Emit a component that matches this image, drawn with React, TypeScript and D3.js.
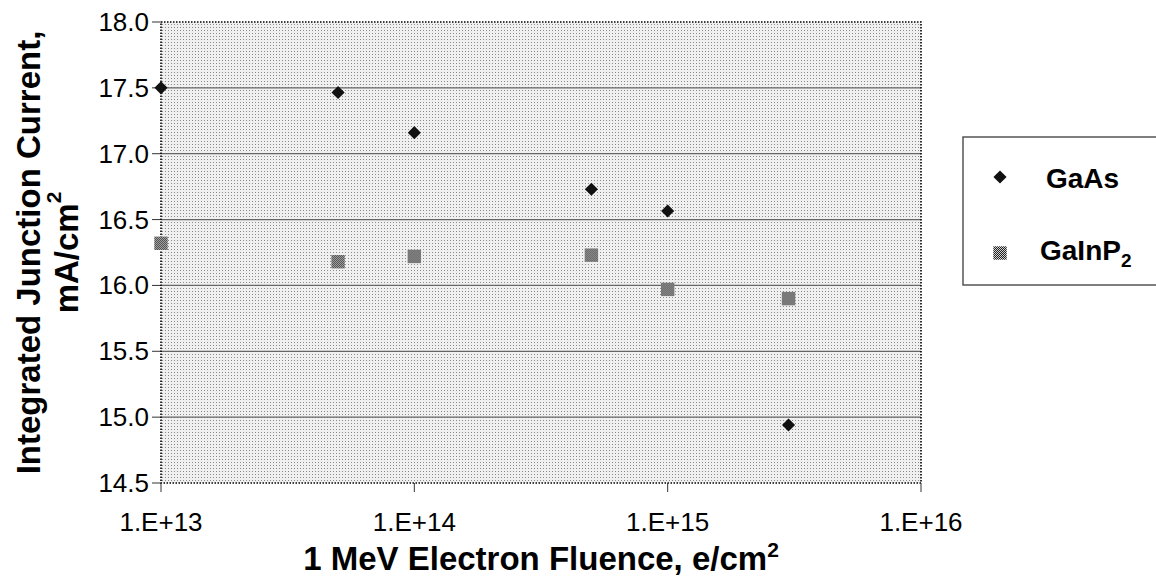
import React from "react";
import * as d3 from "d3";

const fluence = [1e13, 5e13, 1e14, 5e14, 1e15, 3e15];
const gaAs = [17.5, 17.465, 17.16, 16.73, 16.565, 14.94];
const gaInP2 = [16.32, 16.18, 16.22, 16.23, 15.97, 15.9];
const yTicks = [14.5, 15.0, 15.5, 16.0, 16.5, 17.0, 17.5, 18.0];
const xTicks = [1e13, 1e14, 1e15, 1e16];
const xTickLabels = ["1.E+13", "1.E+14", "1.E+15", "1.E+16"];

const W = 1156;
const H = 577;
const L = 161, R = 921, T = 22, B = 483;
const FONT = "Liberation Sans, Arial, sans-serif";

export default function App() {
  const x = d3.scaleLog().domain([1e13, 1e16]).range([L, R]);
  const y = d3.scaleLinear().domain([14.5, 18]).range([B, T]);
  const diamond = d3.symbol().type(d3.symbolDiamond2).size(110)();
  const square = d3.symbol().type(d3.symbolSquare).size(180)();
  const cx = (L + R) / 2;
  const cy = (T + B) / 2;

  return (
    <svg width={W} height={H} style={{ position: "absolute", left: 0, top: 0, background: "#fff" }}>
      <defs>
        <pattern id="dots" width="3" height="3" patternUnits="userSpaceOnUse">
          <rect width="3" height="3" fill="#f0f0f0" />
          <rect width="1" height="1" fill="#8a8a8a" />
        </pattern>
        <pattern id="checker" width="2" height="2" patternUnits="userSpaceOnUse">
          <rect width="2" height="2" fill="#d0d0d0" />
          <rect width="1" height="1" fill="#222" />
          <rect x="1" y="1" width="1" height="1" fill="#222" />
        </pattern>
      </defs>
      <rect x={L} y={T} width={R - L} height={B - T} fill="url(#dots)" />
      {yTicks.map((t) => (
        <g key={t}>
          {t > 14.5 && t < 18 && (
            <line x1={L} x2={R} y1={y(t)} y2={y(t)} stroke="#666" strokeWidth={1.3} />
          )}
          <line x1={L - 9} x2={L} y1={y(t)} y2={y(t)} stroke="#333" strokeWidth={1} />
          <text x={L - 12} y={y(t)} textAnchor="end" dominantBaseline="central" fontFamily={FONT} fontSize={26} fill="#000">
            {t.toFixed(1)}
          </text>
        </g>
      ))}
      <rect x={L} y={T} width={R - L} height={B - T} fill="none" stroke="#000" strokeWidth={1.6} strokeDasharray="1.5,1.5" />
      {xTicks.map((t, i) => (
        <g key={t}>
          <line x1={x(t)} x2={x(t)} y1={B} y2={B + 9} stroke="#333" strokeWidth={1} />
          <text x={x(t)} y={B + 39} textAnchor="middle" dominantBaseline="central" fontFamily={FONT} fontSize={26} fill="#000">
            {xTickLabels[i]}
          </text>
        </g>
      ))}
      {fluence.map((f, i) => (
        <path key={"a" + i} d={diamond} transform={`translate(${x(f)},${y(gaAs[i])})`} fill="#111" />
      ))}
      {fluence.map((f, i) => (
        <path key={"b" + i} d={square} transform={`translate(${x(f)},${y(gaInP2[i])})`} fill="url(#checker)" />
      ))}
      <text x={cx} y={570} textAnchor="middle" fontFamily={FONT} fontSize={33} fontWeight="bold">
        1 MeV Electron Fluence, e/cm<tspan dy={-13} fontSize={21}>2</tspan>
      </text>
      <g transform={`translate(28,${cy}) rotate(-90)`}>
        <text x={0} y={0} textAnchor="middle" dominantBaseline="central" fontFamily={FONT} fontSize={33} fontWeight="bold">
          Integrated Junction Current,
        </text>
      </g>
      <g transform={`translate(66,${cy}) rotate(-90)`}>
        <text x={0} y={0} textAnchor="middle" dominantBaseline="central" fontFamily={FONT} fontSize={33} fontWeight="bold">
          mA/cm<tspan dy={-13} fontSize={21}>2</tspan>
        </text>
      </g>
      <rect x={963} y={137} width={200} height={148} fill="#fff" stroke="#555" strokeWidth={1.5} />
      <path d={diamond} transform="translate(1000,177)" fill="#111" />
      <text x={1046} y={178} dominantBaseline="central" fontFamily={FONT} fontSize={28} fontWeight="bold">GaAs</text>
      <path d={square} transform="translate(1000,253)" fill="url(#checker)" />
      <text x={1040} y={250} dominantBaseline="central" fontFamily={FONT} fontSize={28} fontWeight="bold">
        GaInP<tspan dy={10} fontSize={19}>2</tspan>
      </text>
    </svg>
  );
}
